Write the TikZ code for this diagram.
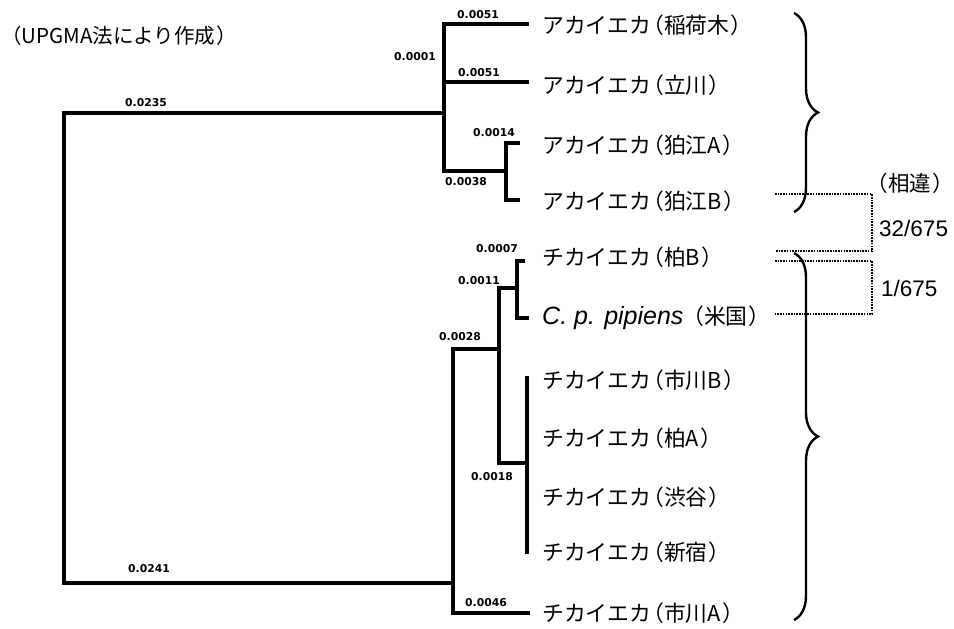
\documentclass[tikz,border=0pt]{standalone}
\usepackage{fontspec}
\setmainfont{Liberation Sans}
\newfontfamily\jpfnt{Noto Sans CJK JP}
\newfontfamily\numfnt{DejaVu Sans}
\newfontfamily\arfnt{Liberation Sans}
\usetikzlibrary{decorations.pathreplacing,calc}
\newcommand\lpar{\kern-0.4em（}
\newcommand\rpar{\kern0.05em）\kern-0.3em}
\begin{document}
\begin{tikzpicture}[x=1pt,y=-1pt,
  branch/.style={line width=3.1pt, line cap=rect, line join=miter},
  leaf/.style={anchor=west, inner sep=0pt, font=\jpfnt\fontsize{21.8}{22}\selectfont},
  blen/.style={inner sep=0pt, font=\numfnt\bfseries\fontsize{10.8}{12}\selectfont},
  diffline/.style={line width=2.1pt, dash pattern=on 1.6pt off 1.1pt},
  brc/.style={decorate, decoration={brace, amplitude=24pt}, line width=2.4pt},
  bignum/.style={anchor=west, inner sep=0pt, font=\arfnt\fontsize{22.5}{24}\selectfont},
  jplabel/.style={anchor=west, inner sep=0pt, font=\jpfnt\fontsize{21.5}{22}\selectfont}]
\useasboundingbox (0,0) rectangle (954,629);

% ---- title
\node[jplabel, font=\jpfnt\fontsize{20.5}{22}\selectfont] (title) at (1,36) {（UPGMA法により作成\rpar};

% ---- tree coordinates
\coordinate (r1) at (64,113);
\coordinate (r2) at (64,583);
\coordinate (aT) at (444,24);
\coordinate (aB) at (444,171);
\coordinate (t1) at (527,24);
\coordinate (t2) at (527,82);
\coordinate (k0) at (506,171);
\coordinate (t3) at (518,143);
\coordinate (t4) at (518,200);
\coordinate (bT) at (453,349);
\coordinate (t11) at (528,613);
\coordinate (cT) at (499,288);
\coordinate (cB) at (499,463);
\coordinate (d0) at (517,288);
\coordinate (t5) at (523,261);
\coordinate (t6) at (527,318);
\coordinate (eT) at (527,378);
\coordinate (eB) at (527,552);
\coordinate (e0) at (527,463);

% ---- tree branches
\draw[branch] (r1 -| aT) -- (r1) -- (r2) -- (r2 -| bT);
\draw[branch] (t1) -| (aB) -- (k0);
\draw[branch] (t2) -- (t2 -| aT);
\draw[branch] (t3) -| (k0) |- (t4);
\draw[branch] (t11) -| (bT) -- (bT -| cT);
\draw[branch] (cT) -- (cB) -- (e0);
\draw[branch] (cT) -- (d0);
\draw[branch] (t5) -| (d0) |- (t6);
\draw[branch] (eT) -- (eB);

% ---- branch lengths
\node[blen] (n1) at (146,103) {0.0235};
\node[blen] (n2) at (149,569) {0.0241};
\node[blen] (n3) at (478,15) {0.0051};
\node[blen] (n4) at (479,73) {0.0051};
\node[blen] (n5) at (415,57) {0.0001};
\node[blen] (n6) at (494,133) {0.0014};
\node[blen] (n7) at (466,182) {0.0038};
\node[blen] (n8) at (497,249) {0.0007};
\node[blen] (n9) at (479,281) {0.0011};
\node[blen] (n10) at (460,337) {0.0028};
\node[blen] (n11) at (492,477) {0.0018};
\node[blen] (n12) at (486,603) {0.0046};

% ---- leaves
\node[leaf] (L1) at (542,25) {アカイエカ\lpar 稲荷木\rpar};
\node[leaf] (L2) at (542,85) {アカイエカ\lpar 立川\rpar};
\node[leaf] (L3) at (542,145) {アカイエカ\lpar 狛江A\rpar};
\node[leaf] (L4) at (542,201) {アカイエカ\lpar 狛江B\rpar};
\node[leaf] (L5) at (542,257) {チカイエカ\lpar 柏B\rpar};
\node[leaf] (L6) at (542,318) {{\arfnt\mdseries\itshape\fontsize{25}{26}\selectfont C. p. pipiens}\kern0.35em\lpar 米国\rpar};
\node[leaf] (L7) at (542,380) {チカイエカ\lpar 市川B\rpar};
\node[leaf] (L8) at (542,438) {チカイエカ\lpar 柏A\rpar};
\node[leaf] (L9) at (542,497) {チカイエカ\lpar 渋谷\rpar};
\node[leaf] (L10) at (542,552) {チカイエカ\lpar 新宿\rpar};
\node[leaf] (L11) at (542,613) {チカイエカ\lpar 市川A\rpar};

% ---- braces
\coordinate (u1) at (794,13);
\coordinate (u2) at (794,212);
\coordinate (w1) at (794,253);
\coordinate (w2) at (794,620);
\draw[brc] (u1) -- (u2);
\draw[brc] (w1) -- (w2);

% ---- difference brackets
\coordinate (p1) at (775,194);
\coordinate (q1) at (872,194);
\coordinate (q2) at (872,251);
\coordinate (p2) at (775,251);
\coordinate (p3) at (775,261);
\coordinate (q3) at (872,261);
\coordinate (q4) at (872,314);
\coordinate (p4) at (775,314);
\draw[diffline] (p1) -- (q1) -- (q2) -- (p2);
\draw[diffline] (p3) -- (q3) -- (q4) -- (p4);

\node[jplabel] (dh) at (875,183) {\lpar 相違\rpar};
\node[bignum] (d1) at (879,228) {32/675};
\node[bignum] (d2) at (881,288) {1/675};
\end{tikzpicture}
\end{document}
